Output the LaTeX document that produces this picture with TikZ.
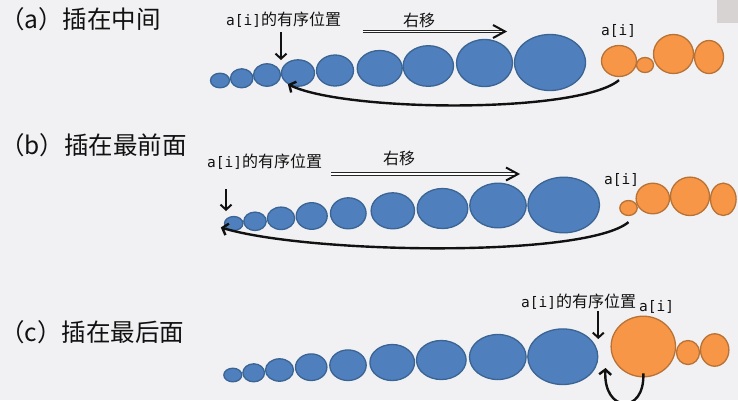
\documentclass[tikz,border=0pt]{standalone}
\usepackage{fontspec}
\usetikzlibrary{shapes.geometric,arrows.meta,calc}
\newfontfamily\cjk{Noto Sans CJK SC}
\newfontfamily\monof{DejaVu Sans Mono}
\definecolor{bgc}{HTML}{F1F1F3}
\definecolor{bfill}{HTML}{4F7FBC}
\definecolor{bdraw}{HTML}{3A6494}
\definecolor{ofill}{HTML}{F79646}
\definecolor{odraw}{HTML}{B87235}
\definecolor{cornergray}{HTML}{D7D3D3}
\definecolor{ink}{HTML}{111111}
\newcommand\ai{{\monof\fontsize{14.5}{16}\selectfont a[i]}}
\tikzset{
  sz/.style 2 args={minimum width=#1pt, minimum height=#2pt},
  bl/.style={ellipse, draw=bdraw, fill=bfill, line width=1.3pt, inner sep=0pt},
  og/.style={ellipse, draw=odraw, fill=ofill, line width=1.3pt, inner sep=0pt},
  title/.style={anchor=west, inner sep=0pt, text=ink, font=\cjk\fontsize{24.5}{26}\selectfont},
  lbl/.style={anchor=west, inner sep=0pt, text=ink, font=\cjk\fontsize{16}{18}\selectfont},
  cjklbl/.style={inner sep=0pt, text=ink, font=\cjk\fontsize{16}{18}\selectfont},
  arr/.style={draw=ink, line width=2.4pt, -{Straight Barb[length=5pt,width=12pt]}},
  downarr/.style={draw=ink, line width=2pt, -{Straight Barb[length=5pt,width=11pt]}},
  dbl/.style={draw=black!85, double=white, double distance=1.4pt, line width=0.9pt},
  chev/.style={draw=ink, line width=2pt}
}
\begin{document}
\begin{tikzpicture}[x=1pt,y=-1pt]
\fill[bgc] (0,0) rectangle (738,400);
\useasboundingbox (0,0) rectangle (738,400);
\clip (0,0) rectangle (738,400);
\fill[cornergray] (717,0) rectangle (738,23);

% ---------- titles
\node[title] (ta) at (0,19) {（a）插在中间};
\node[title] (tb) at (0,145) {（b）插在最前面};
\node[title] (tc) at (0,332) {（c）插在最后面};

% ---------- row (a)
\node[bl, sz={19}{14.6}] (a1) at (220,80.5) {};
\node[bl, sz={22.4}{19}] (a2) at (241.7,78.3) {};
\node[bl, sz={27}{22.4}] (a3) at (267,75) {};
\node[bl, sz={33}{26.4}] (a4) at (298,73) {};
\node[bl, sz={37}{31}] (a5) at (335,70.5) {};
\node[bl, sz={45}{35.6}] (a6) at (379.7,68.3) {};
\node[bl, sz={50.4}{40.6}] (a7) at (428.3,66) {};
\node[bl, sz={56}{47}] (a8) at (484.5,63) {};
\node[bl, sz={71}{56}] (a9) at (550,62.5) {};
\node[og, sz={35}{31}] (ao1) at (619,61) {};
\node[og, sz={17}{15}] (ao2) at (645,65) {};
\node[og, sz={40}{39}] (ao3) at (673.5,54) {};
\node[og, sz={29}{33}] (ao4) at (709,57) {};

\node[lbl] (la) at (226,20) {\ai 的有序位置};
\node[cjklbl] (ra) at (419,20) {右移};
\node[lbl] (xa) at (601,31) {\ai};
\coordinate (da1) at (281,32);
\coordinate (da2) at (281,60);
\draw[downarr] (da1) -- (da2);
\coordinate (sa1) at (363,31.5);
\coordinate (sa2) at (503,31.5);
\coordinate (ta2) at (505,31.5);
\draw[dbl] (sa1) -- (sa2);
\draw[chev] ([shift={(-12pt,6.5pt)}]ta2) -- (ta2) -- ([shift={(-12pt,-6.5pt)}]ta2);
\coordinate (ca1) at ([yshift=-3pt]ao1.south);
\coordinate (ca2) at (a4.228);
\draw[arr] (ca1) .. controls (578,114) and (345,112) .. (ca2);

% ---------- row (b)
\node[bl, sz={18.4}{14}] (b1) at (233.7,223.5) {};
\node[bl, sz={22.4}{18.4}] (b2) at (255,221.3) {};
\node[bl, sz={27.4}{22.4}] (b3) at (281,218.3) {};
\node[bl, sz={31}{26.6}] (b4) at (311.7,216) {};
\node[bl, sz={35.6}{31}] (b5) at (348.3,213.3) {};
\node[bl, sz={43.4}{36}] (b6) at (392.8,210.8) {};
\node[bl, sz={50.6}{40}] (b7) at (442.5,208.5) {};
\node[bl, sz={56.4}{44.6}] (b8) at (498,205.5) {};
\node[bl, sz={71.6}{55.6}] (b9) at (563.7,205) {};
\node[og, sz={17.4}{15}] (bo1) at (628.5,208) {};
\node[og, sz={33.4}{30.6}] (bo2) at (652.8,198.5) {};
\node[og, sz={39}{38.4}] (bo3) at (690,196.3) {};
\node[og, sz={25.6}{32.4}] (bo4) at (723.3,199.3) {};

\node[lbl] (lb) at (207,162) {\ai 的有序位置};
\node[cjklbl] (rb) at (399,158.5) {右移};
\node[lbl] (xb) at (604,180) {\ai};
\coordinate (db1) at (226,189);
\coordinate (db2) at (226,211);
\draw[downarr] (db1) -- (db2);
\coordinate (sb1) at (331,174);
\coordinate (sb2) at (516,174);
\coordinate (tb2) at (518,174);
\draw[dbl] (sb1) -- (sb2);
\draw[chev] ([shift={(-12pt,6.5pt)}]tb2) -- (tb2) -- ([shift={(-12pt,-6.5pt)}]tb2);
\coordinate (cb1) at ([yshift=-6pt]bo1.south);
\coordinate (cb2) at ([xshift=-3pt,yshift=-4pt]b1.west);
\draw[arr] (cb1) .. controls (585,258) and (310,254) .. (cb2);

% ---------- row (c)
\node[bl, sz={18}{13.6}] (c1) at (232.8,375) {};
\node[bl, sz={21.6}{18}] (c2) at (253.7,372.8) {};
\node[bl, sz={28}{22.4}] (c3) at (279.5,370) {};
\node[bl, sz={31.4}{26.6}] (c4) at (311.2,367.2) {};
\node[bl, sz={36.4}{30.6}] (c5) at (348,365.2) {};
\node[bl, sz={44.6}{36}] (c6) at (392.2,362.5) {};
\node[bl, sz={49.6}{39}] (c7) at (441.3,360) {};
\node[bl, sz={56.6}{45}] (c8) at (497.8,357) {};
\node[bl, sz={70}{55.6}] (c9) at (562.8,356.7) {};
\node[og, sz={64.4}{60.6}] (co1) at (643.3,346.5) {};
\node[og, sz={23}{24}] (co2) at (688,352.5) {};
\node[og, sz={28.4}{32.4}] (co3) at (714.7,350) {};

\node[lbl] (lc) at (521,302) {\ai 的有序位置};
\node[lbl] (xc) at (639,307) {\ai};
\coordinate (dc1) at (598.3,311);
\coordinate (dc2) at (598.3,339);
\draw[downarr] (dc1) -- (dc2);
\coordinate (cc1) at ([yshift=4pt]co1.south);
\coordinate (cc2) at (605.5,368);
\draw[arr] (cc1) .. controls (645,415) and (603,413) .. (cc2);
\end{tikzpicture}
\end{document}
